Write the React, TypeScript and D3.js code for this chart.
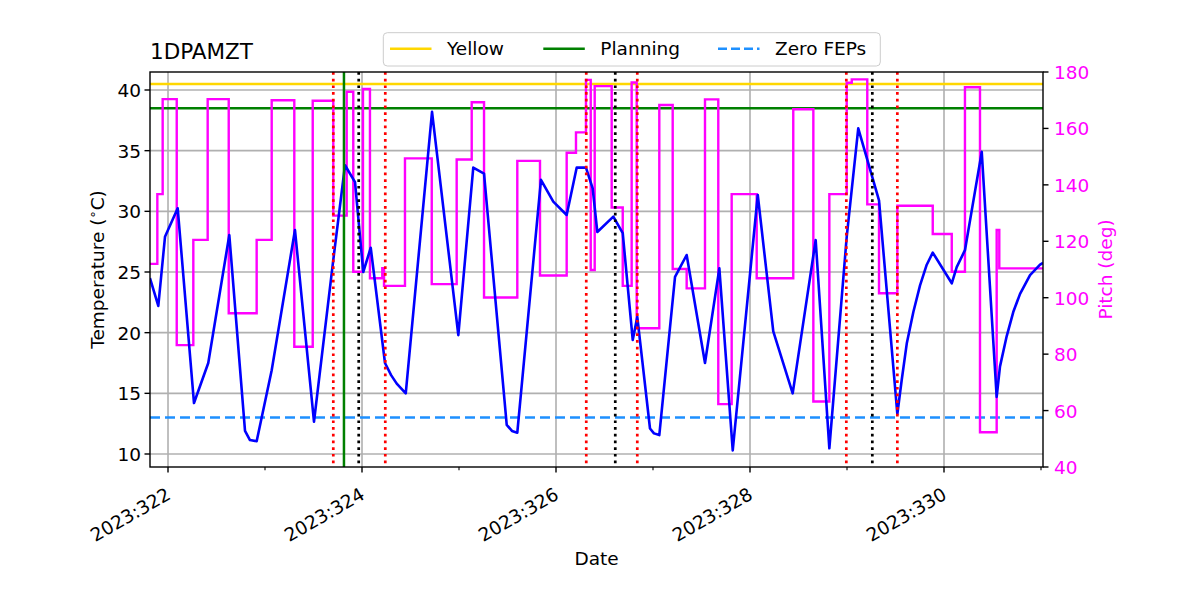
import React from 'react';
import * as d3 from 'd3';

const titleText = '1DPAMZT';

const tempTimes = [
  321.814, 321.9, 321.969, 322.1, 322.268, 322.415, 322.632, 322.794, 322.845, 322.914,
  323.069, 323.309, 323.505, 323.704, 323.825, 323.928, 324.013, 324.09, 324.237, 324.3,
  324.358, 324.451, 324.722, 324.993, 325.147, 325.258, 325.492, 325.546, 325.601, 325.845,
  325.972, 326.11, 326.213, 326.309, 326.378, 326.426, 326.591, 326.688, 326.791, 326.838,
  326.969, 327.01, 327.065, 327.227, 327.347, 327.536, 327.684, 327.822, 328.08, 328.24,
  328.44, 328.677, 328.818, 328.997, 329.116, 329.33, 329.519, 329.564, 329.616, 329.684,
  329.753, 329.822, 329.884, 330.08, 330.131, 330.216, 330.389, 330.543, 330.577, 330.646,
  330.714, 330.784, 330.887, 330.99, 331.021,
];
const tempValues = [
  24.5, 22.2, 27.9, 30.25, 14.2, 17.5, 28.05, 11.9, 11.15, 11.05,
  16.9, 28.46, 12.66, 26.0, 33.8, 32.4, 25.0, 27.0, 17.5, 16.5,
  15.8, 15.0, 38.2, 19.8, 33.6, 33.1, 12.4, 11.9, 11.76, 32.6,
  30.8, 29.7, 33.6, 33.6, 31.9, 28.3, 29.56, 28.2, 19.4, 21.3,
  12.1, 11.7, 11.56, 24.6, 26.4, 17.5, 25.3, 10.3, 31.35, 20.1,
  15.0, 27.64, 10.47, 27.9, 36.84, 30.9, 13.3, 16.1, 19.1, 21.7,
  23.9, 25.6, 26.6, 24.07, 25.4, 26.8, 34.9, 14.7, 17.2, 19.7,
  21.7, 23.2, 24.75, 25.6, 25.75,
];

const pitchTimes = [
  321.814, 321.89, 321.945, 322.09, 322.261, 322.409, 322.626, 322.914, 323.069, 323.302,
  323.492, 323.704, 323.842, 323.91, 324.01, 324.082, 324.209, 324.227, 324.443, 324.719,
  324.976, 325.131, 325.258, 325.601, 325.835, 326.11, 326.206, 326.309, 326.358, 326.399,
  326.574, 326.688, 326.78, 326.832, 327.065, 327.203, 327.347, 327.536, 327.673, 327.811,
  328.069, 328.446, 328.653, 328.818, 328.997, 329.049, 329.209, 329.33, 329.519, 329.884,
  330.08, 330.216, 330.371, 330.543, 330.57, 331.021,
];
const pitchValues = [
  112, 136.7, 170.4, 83.2, 120.5, 170.4, 94.5, 120.5, 170, 82.6,
  169.8, 129.1, 173, 109.2, 174, 106.9, 110.5, 104.2, 149.4, 104.8,
  149, 169.3, 100.1, 148.5, 107.9, 151.4, 158.6, 177.2, 109.8, 175,
  132, 104.2, 176.3, 89.2, 168.3, 110.2, 103.3, 170.3, 62.3, 136.7,
  106.9, 166.8, 63.2, 136.7, 176.2, 177.4, 133.1, 101.6, 132.6, 122.6,
  109.2, 174.6, 52.3, 124, 110.4, 110.4,
];

const yellowLimit = 40.5;
const planningLimit = 38.5;
const zeroFepsLimit = 13.0;
const redLineTimes = [323.704, 324.24, 326.312, 326.838, 328.993, 329.519];
const blackLineTimes = [323.966, 326.611, 329.261];
const planningTimes = [323.814];

const majorDays = [322, 324, 326, 328, 330];
const minorDays = [323, 325, 327, 329, 331];
const tempTicks = [10, 15, 20, 25, 30, 35, 40];
const pitchTicks = [40, 60, 80, 100, 120, 140, 160, 180];
const legendLabels = ['Yellow', 'Planning', 'Zero FEPs'];
const legendColors = ['#FFD700', '#008000', '#1E90FF'];

const FONT = 'DejaVu Sans, sans-serif';
const FS = 18.5;

export default function App() {
  const left = 150, right = 1043, top = 72, bottom = 467;
  const x = d3.scaleLinear().domain([321.8144, 331.0206]).range([left, right]);
  const yT = d3.scaleLinear().domain([8.9286, 41.4835]).range([bottom, top]);
  const yP = d3.scaleLinear().domain([40, 180]).range([bottom, top]);

  const tempPts = tempTimes.map((t, i) => [t, tempValues[i]] as [number, number]);
  const pitchPts = pitchTimes.map((t, i) => [t, pitchValues[i]] as [number, number]);
  const tempLine = d3.line<[number, number]>().x(d => x(d[0])).y(d => yT(d[1]));
  const pitchLine = d3.line<[number, number]>().x(d => x(d[0])).y(d => yP(d[1])).curve(d3.curveStepAfter);

  const legendX = [390, 543.3, 718];

  return (
    <svg width={1200} height={600} style={{ position: 'absolute', left: 0, top: 0, background: '#fff' }}
      fontFamily={FONT}>
      <rect x={0} y={0} width={1200} height={600} fill="#fff" />
      <defs>
        <clipPath id="plotclip">
          <rect x={left} y={top} width={right - left} height={bottom - top} />
        </clipPath>
      </defs>
      {tempTicks.map(t => (
        <line key={'gy' + t} x1={left} x2={right} y1={yT(t)} y2={yT(t)} stroke="#b0b0b0" strokeWidth={1.6} />
      ))}
      {majorDays.map(d => (
        <line key={'gx' + d} x1={x(d)} x2={x(d)} y1={top} y2={bottom} stroke="#b0b0b0" strokeWidth={1.6} />
      ))}
      <g clipPath="url(#plotclip)">
        <line x1={left} x2={right} y1={yT(yellowLimit)} y2={yT(yellowLimit)} stroke={legendColors[0]} strokeWidth={2.5} />
        <line x1={left} x2={right} y1={yT(planningLimit)} y2={yT(planningLimit)} stroke={legendColors[1]} strokeWidth={2.5} />
        <line x1={left} x2={right} y1={yT(zeroFepsLimit)} y2={yT(zeroFepsLimit)} stroke={legendColors[2]}
          strokeWidth={2.5} strokeDasharray="10,5" />
        <path d={pitchLine(pitchPts) || ''} fill="none" stroke="#FF00FF" strokeWidth={2.4} />
        <path d={tempLine(tempPts) || ''} fill="none" stroke="#0000FF" strokeWidth={2.6} strokeLinejoin="round" />
        {planningTimes.map((t, i) => (
          <line key={'pl' + i} x1={x(t)} x2={x(t)} y1={top} y2={bottom} stroke="#008000" strokeWidth={2.5} />
        ))}
        {redLineTimes.map((t, i) => (
          <line key={'rl' + i} x1={x(t)} x2={x(t)} y1={top} y2={bottom} stroke="#FF0000" strokeWidth={2.7}
            strokeDasharray="2.7,4" />
        ))}
        {blackLineTimes.map((t, i) => (
          <line key={'bl' + i} x1={x(t)} x2={x(t)} y1={top} y2={bottom} stroke="#000" strokeWidth={2.7}
            strokeDasharray="2.7,4" />
        ))}
      </g>
      <rect x={left} y={top} width={right - left} height={bottom - top} fill="none" stroke="#000" strokeWidth={1.4} />
      {majorDays.map(d => (
        <g key={'xt' + d}>
          <line x1={x(d)} x2={x(d)} y1={bottom} y2={bottom + 5.5} stroke="#000" strokeWidth={1.4} />
          <text transform={`translate(${x(d) + 4},${bottom + 31}) rotate(-30)`} textAnchor="end" fontSize={FS}
            fill="#000">{`2023:${d}`}</text>
        </g>
      ))}
      {minorDays.map(d => (
        <line key={'xm' + d} x1={x(d)} x2={x(d)} y1={bottom} y2={bottom + 3.3} stroke="#000" strokeWidth={1.1} />
      ))}
      {tempTicks.map(t => (
        <g key={'yt' + t}>
          <line x1={left - 5.5} x2={left} y1={yT(t)} y2={yT(t)} stroke="#000" strokeWidth={1.4} />
          <text x={left - 9} y={yT(t) + 7} textAnchor="end" fontSize={FS} fill="#000">{t}</text>
        </g>
      ))}
      {pitchTicks.map(p => (
        <g key={'pt' + p}>
          <line x1={right} x2={right + 5.5} y1={yP(p)} y2={yP(p)} stroke="#000" strokeWidth={1.4} />
          <text x={right + 11} y={yP(p) + 7} textAnchor="start" fontSize={FS} fill="#FF00FF">{p}</text>
        </g>
      ))}
      <text transform={`translate(104,${(top + bottom) / 2}) rotate(-90)`} textAnchor="middle" fontSize={FS} fill="#000">
        Temperature (<tspan fontSize={13} dy={-7}>∘</tspan><tspan dy={7}>C)</tspan>
      </text>
      <text transform={`translate(1112,${(top + bottom) / 2}) rotate(-90)`} textAnchor="middle" fontSize={FS}
        fill="#FF00FF">Pitch (deg)</text>
      <text x={(left + right) / 2} y={565} textAnchor="middle" fontSize={FS} fill="#000">Date</text>
      <text x={left} y={59} fontSize={21.5} fill="#000">{titleText}</text>
      <rect x={383.3} y={32.7} width={497} height={33.3} rx={4} fill="#fff" fillOpacity={0.8} stroke="#cccccc" strokeWidth={1} />
      {legendLabels.map((lab, i) => (
        <g key={'lg' + i}>
          <line x1={legendX[i]} x2={legendX[i] + 41.5} y1={48.7} y2={48.7} stroke={legendColors[i]} strokeWidth={2.5}
            strokeDasharray={i === 2 ? '9,4' : undefined} />
          <text x={legendX[i] + 57} y={54.7} fontSize={FS} fill="#000">{lab}</text>
        </g>
      ))}
    </svg>
  );
}
